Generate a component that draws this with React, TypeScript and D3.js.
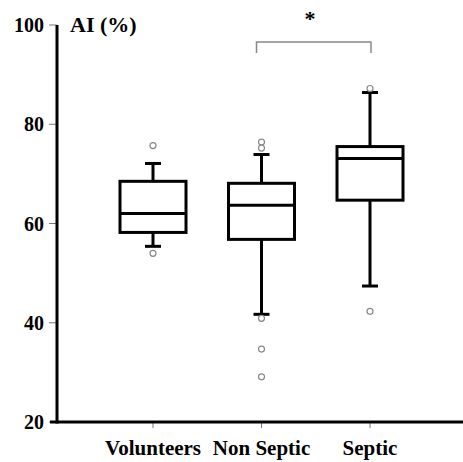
import React from 'react'
import * as d3 from 'd3'

const groups = ['Volunteers', 'Non Septic', 'Septic']
const whiskerLow = [55.4, 41.7, 47.4]
const q1 = [58.2, 56.8, 64.7]
const medians = [62.0, 63.7, 73.1]
const q3 = [68.5, 68.1, 75.5]
const whiskerHigh = [72.1, 73.9, 86.4]
const outliers = [[75.7, 54.0], [76.4, 75.2, 40.9, 34.7, 29.1], [87.2, 42.3]]
const yTicks = [20, 40, 60, 80, 100]

const width = 463
const height = 462
const txt: React.CSSProperties = {
  fontFamily: "'Liberation Serif', 'DejaVu Serif', serif",
  fontWeight: 'bold',
}

export default function App() {
  const xScale = d3.scalePoint<string>().domain(groups).range([153, 370])
  const yScale = d3.scaleLinear().domain([20, 100]).range([422, 25])
  const boxW = 66
  const capW = 16

  return (
    <div style={{ position: 'absolute', left: 0, top: 0 }}>
      <svg width={width} height={height} style={{ display: 'block', background: '#fff' }}>
        {/* y axis ticks */}
        {yTicks.map((t) => (
          <g key={t}>
            <line x1={49} x2={57} y1={yScale(t)} y2={yScale(t)} stroke="#777" strokeWidth={1} />
            <text x={44} y={yScale(t) + 7} textAnchor="end" style={{ ...txt, fontSize: 20 }}>
              {t}
            </text>
          </g>
        ))}
        <text x={70} y={yScale(100) + 7} style={{ ...txt, fontSize: 22 }}>AI (%)</text>

        {/* x ticks and labels */}
        {groups.map((g) => (
          <g key={g}>
            <line x1={xScale(g)} x2={xScale(g)} y1={yScale(20)} y2={yScale(20) + 6} stroke="#777" strokeWidth={1} />
            <text x={xScale(g)} y={455} textAnchor="middle" style={{ ...txt, fontSize: 21 }}>
              {g}
            </text>
          </g>
        ))}

        {/* boxes */}
        {groups.map((g, i) => {
          const cx = xScale(g) as number
          return (
            <g key={g} stroke="#000" strokeWidth={3} fill="none">
              <line x1={cx} x2={cx} y1={yScale(whiskerHigh[i])} y2={yScale(q3[i])} />
              <line x1={cx} x2={cx} y1={yScale(q1[i])} y2={yScale(whiskerLow[i])} />
              <line x1={cx - capW / 2} x2={cx + capW / 2} y1={yScale(whiskerHigh[i])} y2={yScale(whiskerHigh[i])} />
              <line x1={cx - capW / 2} x2={cx + capW / 2} y1={yScale(whiskerLow[i])} y2={yScale(whiskerLow[i])} />
              <rect x={cx - boxW / 2} y={yScale(q3[i])} width={boxW} height={yScale(q1[i]) - yScale(q3[i])} fill="#fff" />
              <line x1={cx - boxW / 2} x2={cx + boxW / 2} y1={yScale(medians[i])} y2={yScale(medians[i])} />
              {outliers[i].map((o, j) => (
                <circle key={j} cx={cx} cy={yScale(o)} r={3} fill="#fff" stroke="#888" strokeWidth={1.2} />
              ))}
            </g>
          )
        })}

        {/* axes */}
        <line x1={57} x2={57} y1={yScale(100)} y2={yScale(20) + 1.5} stroke="#000" strokeWidth={3} />
        <line x1={50} x2={width} y1={yScale(20)} y2={yScale(20)} stroke="#000" strokeWidth={3} />

        {/* significance bracket */}
        <path
          d={`M${xScale('Non Septic')! - 5},53 V42 H${xScale('Septic')! + 1} V53`}
          fill="none"
          stroke="#888"
          strokeWidth={1.5}
        />
        <text x={310} y={26} textAnchor="middle" style={{ ...txt, fontSize: 22 }}>*</text>
      </svg>
    </div>
  )
}
